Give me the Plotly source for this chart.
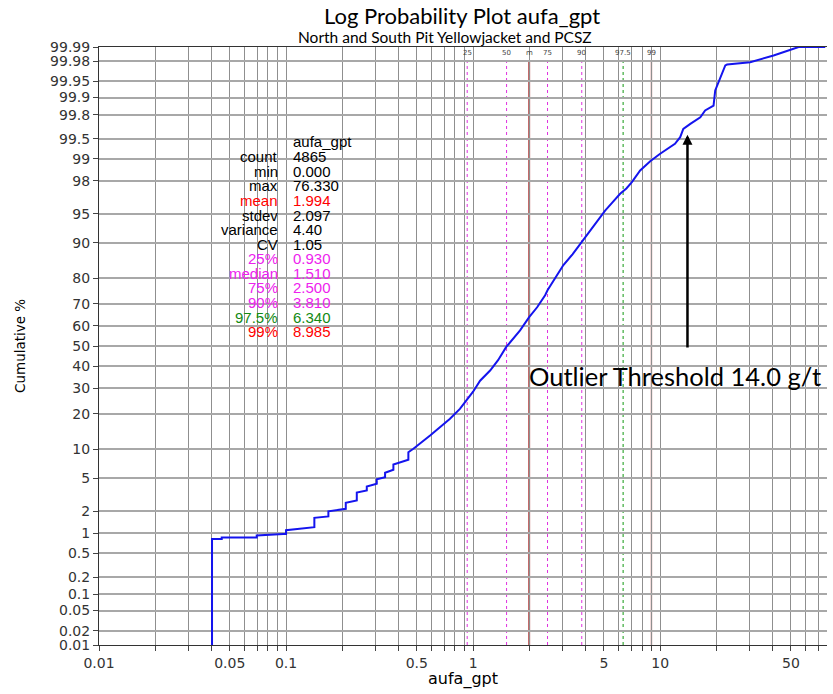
import math
from statistics import NormalDist
import plotly.graph_objects as go

# ---------------- data ----------------
grade = [0.0402, 0.0402, 0.0453, 0.0453, 0.0697, 0.0697, 0.0967, 0.1, 0.1, 0.136,
         0.1417, 0.1417, 0.1684, 0.1684, 0.2086, 0.2086, 0.2389, 0.2389, 0.2702, 0.2702,
         0.3055, 0.3055, 0.3384, 0.3384, 0.3749, 0.3749, 0.4071, 0.4508, 0.4508, 0.4794,
         0.589, 0.66, 0.75, 0.85, 0.937, 1.0, 1.09, 1.233, 1.36, 1.501, 1.783, 1.994,
         2.2, 2.427, 2.5, 3.04, 3.4, 3.81, 4.40, 5.08, 5.5, 6.11, 6.6, 7.06, 7.82,
         8.3, 8.85, 10.0, 11.3, 12.0, 12.8, 13.3, 14.5, 16.4, 17.4, 19.3, 19.7, 20.5,
         22.3, 22.8, 30.3, 40.4, 49.5, 55.0, 76.33]
cum_pct = [0.01, 0.82, 0.82, 0.86, 0.86, 0.92, 0.97, 0.97, 1.10, 1.21,
           1.21, 1.63, 1.70, 1.99, 2.14, 2.56, 2.73, 3.42, 3.62, 4.03,
           4.33, 4.88, 5.13, 5.74, 6.18, 7.02, 7.42, 7.85, 9.33, 10.05,
           13.28, 15.4, 18.2, 21.7, 25.5, 28.5, 33.3, 38.0, 43.0, 49.4, 57.7, 64.0,
           68.5, 73.6, 75.6, 84.3, 87.3, 90.3, 93.1, 95.4, 96.2, 97.08, 97.5, 97.92, 98.55,
           98.75, 98.92, 99.16, 99.345, 99.405, 99.53, 99.654, 99.714, 99.778, 99.83, 99.861, 99.926, 99.948,
           99.9758, 99.9768, 99.9792, 99.9849, 99.9885, 99.99, 99.99]

y_tick_labels = ["99.99", "99.98", "99.95", "99.9", "99.8", "99.5", "99", "98", "95", "90",
                 "80", "70", "60", "50", "40", "30", "20", "10", "5", "2", "1", "0.5",
                 "0.2", "0.1", "0.05", "0.02", "0.01"]
x_labelled = {0.01: "0.01", 0.05: "0.05", 0.1: "0.1", 0.5: "0.5", 1: "1", 5: "5", 10: "10", 50: "50"}

stat_names = ["count", "min", "max", "mean", "stdev", "variance", "CV", "25%", "median",
              "75%", "90%", "97.5%", "99%"]
stat_values = ["4865", "0.000", "76.330", "1.994", "2.097", "4.40", "1.05", "0.930", "1.510",
               "2.500", "3.810", "6.340", "8.985"]
stat_colors = ["black", "black", "black", "#ff0000", "black", "black", "black", "#ee22ee",
               "#ee22ee", "#ee22ee", "#ee22ee", "#138a13", "#ff0000"]

pct_lines_val = [0.930, 1.510, 1.994, 2.500, 3.810, 6.340, 8.985]
pct_lines_lab = ["25", "50", "m", "75", "90", "97.5", "99"]
pct_lines_col = ["#e030e0", "#e030e0", "#b85050", "#e030e0", "#e030e0", "#119911", "#d08888"]
pct_lines_dash = ["dot", "dot", "solid", "dot", "dot", "dot", "solid"]
pct_lines_w = [1, 1, 2, 1, 1, 1, 1.5]

threshold = 14.0
# ---------------------------------------

nd = NormalDist()
z = lambda p: nd.inv_cdf(p / 100.0)

W, H = 833, 694
L, R, T, B = 99, 827, 47, 645


def xp(px):
    return (px - L) / (R - L)


def yp(py):
    return (B - py) / (B - T)


fig = go.Figure()
fig.add_trace(go.Scatter(x=grade, y=[z(c) for c in cum_pct], mode="lines",
                         line=dict(color="#1414ee", width=2), showlegend=False,
                         hoverinfo="skip"))

# x ticks: all log minor positions
xtv, xtt = [], []
for dec in [0.01, 0.1, 1, 10]:
    for m in range(1, 10):
        v = round(dec * m, 6)
        if v > 76:
            continue
        xtv.append(v)
        xtt.append(x_labelled.get(v, ""))

ytv = [z(float(s)) for s in y_tick_labels]

tick_font = dict(family="DejaVu Sans", size=14, color="#333333")

fig.update_layout(
    width=W, height=H,
    margin=dict(l=L, r=W - R, t=T, b=H - B),
    paper_bgcolor="white", plot_bgcolor="white",
    xaxis=dict(type="log", range=[-2, math.log10(78)], tickvals=xtv, ticktext=xtt,
               ticks="outside", ticklen=5, tickcolor="#444", showgrid=True,
               gridcolor="#8f8f8f", gridwidth=1, showline=True, linecolor="#333",
               linewidth=1, mirror=True, tickfont=tick_font, zeroline=False),
    yaxis=dict(range=[z(0.01), z(99.99)], tickvals=ytv, ticktext=y_tick_labels,
               ticks="outside", ticklen=5, tickcolor="#444", showgrid=True,
               gridcolor="#a8a8a8", gridwidth=1.5, showline=True, linecolor="#333",
               linewidth=1, tickfont=tick_font, zeroline=False),
)

shapes = []
annots = []
for v, lab, col, dash, w in zip(pct_lines_val, pct_lines_lab, pct_lines_col, pct_lines_dash, pct_lines_w):
    shapes.append(dict(type="line", xref="x", yref="paper", x0=v, x1=v,
                       y0=0, y1=yp(62), line=dict(color=col, width=w, dash=dash), layer="between"))
    annots.append(dict(x=math.log10(v), y=yp(53), xref="x", yref="paper", text=lab,
                       showarrow=False, font=dict(family="DejaVu Sans", size=7, color="#444"),
                       xanchor="center", yanchor="middle"))
fig.update_layout(shapes=shapes)

# titles
annots.append(dict(x=xp(462), y=yp(15), xref="paper", yref="paper",
                   text="Log Probability Plot aufa_gpt", showarrow=False,
                   font=dict(family="Lato", size=22, color="black"),
                   xanchor="center", yanchor="middle"))
annots.append(dict(x=xp(444.5), y=yp(37), xref="paper", yref="paper",
                   text="North and South Pit Yellowjacket and PCSZ", showarrow=False,
                   font=dict(family="Lato", size=15.5, color="black"),
                   xanchor="center", yanchor="middle"))
# axis titles
annots.append(dict(x=xp(463), y=yp(679), xref="paper", yref="paper", text="aufa_gpt",
                   showarrow=False, font=dict(family="DejaVu Sans", size=16, color="black"),
                   xanchor="center", yanchor="middle"))
annots.append(dict(x=xp(20), y=yp(346), xref="paper", yref="paper", text="Cumulative %",
                   showarrow=False, textangle=-90,
                   font=dict(family="DejaVu Sans", size=13.5, color="black"),
                   xanchor="center", yanchor="middle"))

# stats table
stat_font = "Liberation Sans"
annots.append(dict(x=xp(291), y=yp(141.7), xref="paper", yref="paper", text="aufa_gpt",
                   showarrow=False, font=dict(family=stat_font, size=15, color="black"),
                   xanchor="left", yanchor="middle"))
for i, (n, v, c) in enumerate(zip(stat_names, stat_values, stat_colors)):
    yy = 156.7 + i * 14.58
    annots.append(dict(x=xp(279.5), y=yp(yy), xref="paper", yref="paper", text=n,
                       showarrow=False, font=dict(family=stat_font, size=15, color=c),
                       xanchor="right", yanchor="middle"))
    annots.append(dict(x=xp(291), y=yp(yy), xref="paper", yref="paper", text=v,
                       showarrow=False, font=dict(family=stat_font, size=15, color=c),
                       xanchor="left", yanchor="middle"))

# outlier annotation
annots.append(dict(x=xp(527), y=yp(376), xref="paper", yref="paper",
                   text="Outlier Threshold 14.0 g/t", showarrow=False,
                   font=dict(family="Lato", size=25.5, color="black"),
                   xanchor="left", yanchor="middle"))
annots.append(dict(x=math.log10(threshold), y=z(99.57), xref="x", yref="y",
                   ax=math.log10(threshold), ay=z(48.5), axref="x", ayref="y",
                   text="", showarrow=True, arrowhead=2, arrowsize=0.8, arrowwidth=2.5,
                   arrowcolor="black", standoff=0))

fig.update_layout(annotations=annots)
fig.write_html("out.html", config={"displayModeBar": False},
               post_script="document.body.style.margin='0';document.body.style.overflow='hidden';")
